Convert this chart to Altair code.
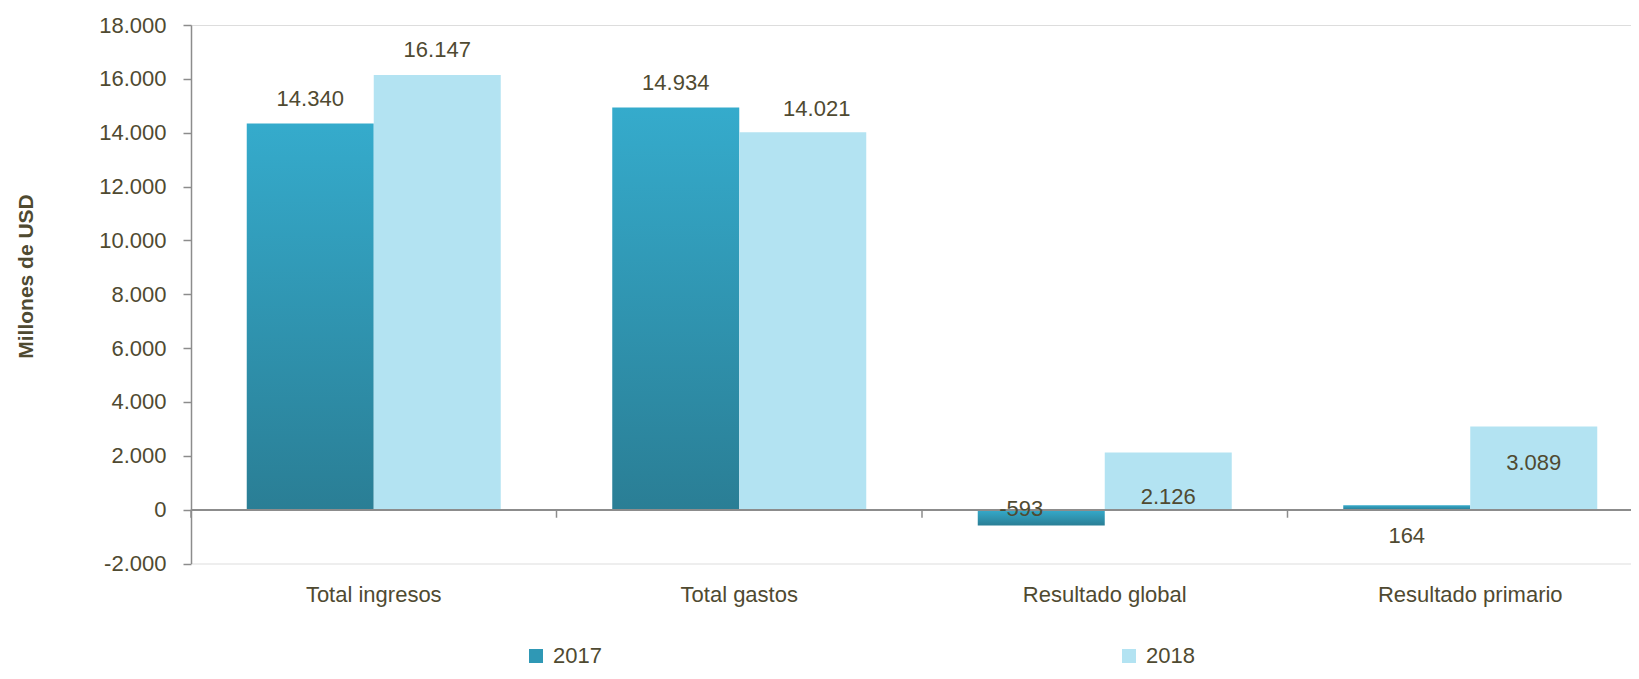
import altair as alt
import pandas as pd

categories = ["Total ingresos", "Total gastos", "Resultado global", "Resultado primario"]
years = ["2017", "2018"]
values_2017 = [14340, 14934, -593, 164]
values_2018 = [16147, 14021, 2126, 3089]
y_ticks = [-2000, 0, 2000, 4000, 6000, 8000, 10000, 12000, 14000, 16000, 18000]

rows = []
for i, c in enumerate(categories):
    rows.append({"cat": c, "year": "2017", "value": values_2017[i]})
    rows.append({"cat": c, "year": "2018", "value": values_2018[i]})
df = pd.DataFrame(rows)
tick_df = pd.DataFrame({"cat": categories})

FONT = "Liberation Sans, Arial, sans-serif"
TEXT = "#4F4A31"
GRAY = "#8C8C8C"
C17_TOP = "#35ABCC"
C17_BOT = "#2A7E95"
C17_MID = "#2F98B5"
C18 = "#B3E3F2"

FMT = "(datum.value < 0 ? '-' : '') + replace(format(abs(datum.value), ',d'), regexp(',', 'g'), '.')"

grad = alt.Gradient(
    gradient="linear",
    stops=[alt.GradientStop(color=C17_TOP, offset=0), alt.GradientStop(color=C17_BOT, offset=1)],
    x1=0, x2=0, y1=0, y2=1,
)

x_enc = alt.X(
    "cat:N", sort=categories,
    scale=alt.Scale(domain=categories, paddingInner=0, paddingOuter=0, range=[0, 1462]),
    axis=alt.Axis(title=None, domain=False, ticks=False, labelPadding=31, labelBaseline="middle",
                  labelFontSize=22, labelFont=FONT, labelColor=TEXT, labelAngle=0, labelLimit=400),
)
xoff = alt.XOffset("year:N", sort=years, scale=alt.Scale(domain=years, paddingInner=0, paddingOuter=0.439))
y_enc = alt.Y(
    "value:Q",
    scale=alt.Scale(domain=[-2000, 18000], nice=False, zero=False),
    axis=alt.Axis(
        values=y_ticks, title="Millones de USD", grid=False,
        domainColor=GRAY, domainWidth=1.5, tickColor=GRAY, tickWidth=1.5, tickSize=8,
        labelPadding=17, labelFontSize=22, labelFont=FONT, labelColor=TEXT,
        labelExpr=FMT,
        titleFont=FONT, titleFontSize=21, titleFontWeight="bold", titleColor=TEXT,
        titleAngle=270, titleX=-165, titleY=251, titleAlign="center", titleBaseline="middle",
    ),
)

bars = alt.Chart(df).mark_bar().encode(
    x=x_enc,
    xOffset=xoff,
    y=y_enc,
    fill=alt.condition(
        "datum.year == '2017'",
        alt.value(grad),
        alt.Fill("year:N", scale=alt.Scale(domain=years, range=[C17_MID, C18]),
                 legend=alt.Legend(title=None, orient="none", legendX=334, legendY=620,
                                   direction="horizontal", columns=2, columnPadding=516,
                                   symbolType="square", symbolSize=196, symbolStrokeWidth=0,
                                   labelFont=FONT, labelFontSize=22, labelColor=TEXT,
                                   labelOffset=6, padding=0)),
    ),
)

zero = alt.Chart(df).mark_rule(color=GRAY, strokeWidth=1.5).encode(y=alt.datum(0))

cat_ticks = alt.Chart(tick_df).mark_rule(color=GRAY, strokeWidth=1.5).encode(
    x=alt.X("cat:N", sort=categories, bandPosition=0),
    y=alt.datum(0),
    y2=alt.datum(-300),
)

base_text = alt.Chart(df).transform_calculate(
    label="(datum.value < 0 ? '-' : '') + replace(format(abs(datum.value), ',d'), regexp(',', 'g'), '.')"
)


def txt(filter_expr, dx, dy):
    return base_text.transform_filter(filter_expr).mark_text(
        font=FONT, fontSize=22, color=TEXT, baseline="middle", align="center", dx=dx, dy=dy
    ).encode(x=alt.X("cat:N", sort=categories), xOffset=alt.XOffset("year:N", sort=years),
             y="value:Q", text="label:N")


t_main = txt("datum.value > 5000 && !(datum.cat == 'Total gastos' && datum.year == '2018')", 0, -25)
t_gastos18 = txt("datum.cat == 'Total gastos' && datum.year == '2018'", 14, -23)
t_glob17 = txt("datum.cat == 'Resultado global' && datum.year == '2017'", -20, -17)
t_glob18 = txt("datum.cat == 'Resultado global' && datum.year == '2018'", 0, 45)
t_prim17 = txt("datum.cat == 'Resultado primario' && datum.year == '2017'", 0, 31)
t_prim18 = txt("datum.cat == 'Resultado primario' && datum.year == '2018'", 0, 37)

chart = alt.layer(
    bars, zero, cat_ticks, t_main, t_gastos18, t_glob17, t_glob18, t_prim17, t_prim18
).properties(
    width=1440, height=538.5,
    autosize=alt.AutoSizeParams(type="none"),
    padding={"left": 183, "top": 17, "right": 0, "bottom": 107.5},
).configure_view(stroke=None).configure(background="white")

chart.save("out.html", embed_options={"renderer": "svg", "actions": False})
